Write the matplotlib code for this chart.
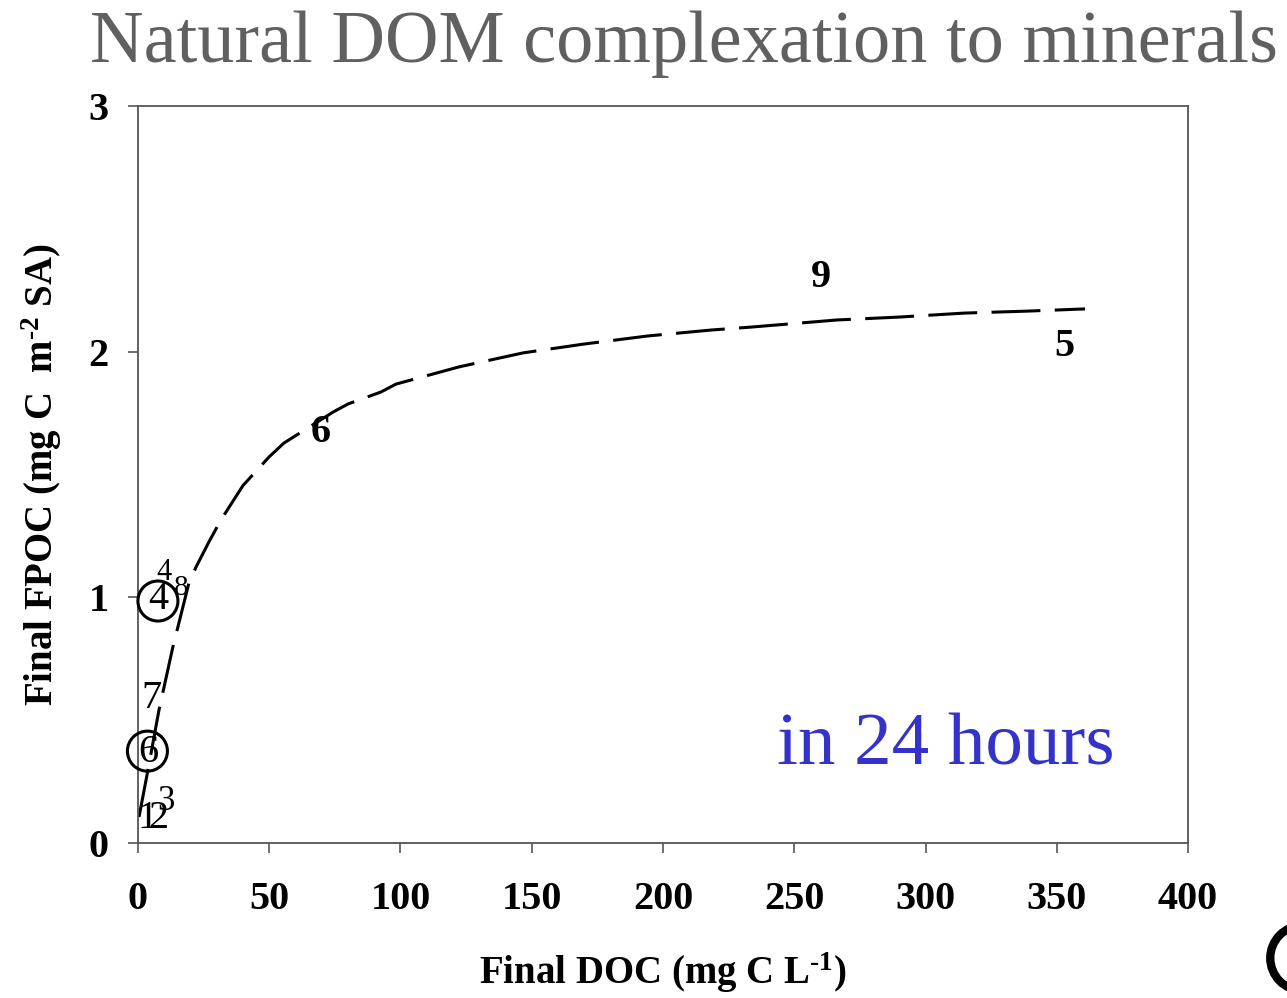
import matplotlib
matplotlib.use("Agg")
import matplotlib.pyplot as plt
from matplotlib.patches import Arc

plt.rcParams['font.family'] = ['Liberation Serif', 'DejaVu Serif']
plt.rcParams['mathtext.fontset'] = 'custom'
plt.rcParams['mathtext.rm'] = 'Liberation Serif:bold'
plt.rcParams['mathtext.it'] = 'Liberation Serif:bold'
plt.rcParams['mathtext.bf'] = 'Liberation Serif:bold'

# dashed fit curve
curve_doc = [0.4, 3.8, 8.0, 13.3, 19.4, 22.1, 27.0, 31.6, 40.0, 49.9, 55.6, 74.3, 80.0,
             92.6, 98.3, 122.3, 146.7, 169.9, 194.3, 218.3, 233.5, 266.3, 290.3,
             314.7, 338.7, 360.8]
curve_fpoc = [0.106, 0.297, 0.541, 0.798, 1.058, 1.123, 1.225, 1.315, 1.455, 1.571, 1.628,
              1.754, 1.787, 1.836, 1.868, 1.938, 1.995, 2.031, 2.064, 2.088, 2.100,
              2.129, 2.141, 2.157, 2.165, 2.174]

# sample numbers drawn as markers
pt_labels = ['9', '5', '6', '4', '4', '8', '7', '6', '3', '1', '2']
pt_doc = [260.2, 352.8, 69.7, 9.9, 7.6, 16.4, 5.0, 3.8, 10.7, 3.8, 7.6]
pt_fpoc = [2.30, 2.02, 1.67, 1.10, 0.99, 1.04, 0.59, 0.37, 0.17, 0.10, 0.10]
pt_size = [29, 29, 29, 22, 29, 21, 29, 29, 25, 29, 29]
pt_bold = [True, True, True, False, False, False, False, False, False, False, False]

# circled points
circ_doc = [7.6, 3.6]
circ_fpoc = [0.985, 0.374]

x_ticks = [0, 50, 100, 150, 200, 250, 300, 350, 400]
y_ticks = [0, 1, 2, 3]

fig = plt.figure(figsize=(12.87, 9.98), dpi=100)
ax = fig.add_axes([0.1072, 0.1553, 0.8159, 0.7385])

ax.plot(curve_doc, curve_fpoc, color='black', lw=2.2, dashes=[16, 4.7])

for lab, x, y, sz, b in zip(pt_labels, pt_doc, pt_fpoc, pt_size, pt_bold):
    ax.text(x, y, lab, fontsize=sz, fontweight='bold' if b else 'normal',
            ha='center', va='center', color='black')

ax.scatter(circ_doc, circ_fpoc, s=830, facecolors='none', edgecolors='black',
           linewidths=2.2, zorder=3, clip_on=False)

ax.set_xlim(0, 400)
ax.set_ylim(0, 3)
ax.set_xticks(x_ticks)
ax.set_yticks(y_ticks)
ax.tick_params(direction='out', length=7, width=1.2, color='#555555',
               labelsize=29)
ax.tick_params(axis='x', pad=20)
ax.tick_params(axis='y', pad=14)
for lbl in ax.get_xticklabels() + ax.get_yticklabels():
    lbl.set_fontweight('bold')
for sp in ax.spines.values():
    sp.set_color('#555555')
    sp.set_linewidth(1.3)

ax.set_xlabel(r'Final DOC (mg C L$^{\text{-1}}$)', fontsize=28, fontweight='bold', labelpad=24)
ax.set_ylabel(r'Final FPOC (mg C  m$^{\text{-2}}$ SA)', fontsize=28, fontweight='bold', labelpad=18)

ax.text(0.769, 0.106, 'in 24 hours', transform=ax.transAxes, fontsize=54,
        color='#3333cc', ha='center', va='baseline')

fig.text(0.07, 0.938, 'Natural DOM complexation to minerals', fontsize=53.5,
         color='#606060', ha='left', va='baseline')

# partial logo at bottom right corner
fig.add_artist(Arc((1.012, 0.04), 0.05, 0.065, theta1=90, theta2=270,
                   transform=fig.transFigure, color='black', lw=6))

fig.savefig('out.png', dpi=100)
